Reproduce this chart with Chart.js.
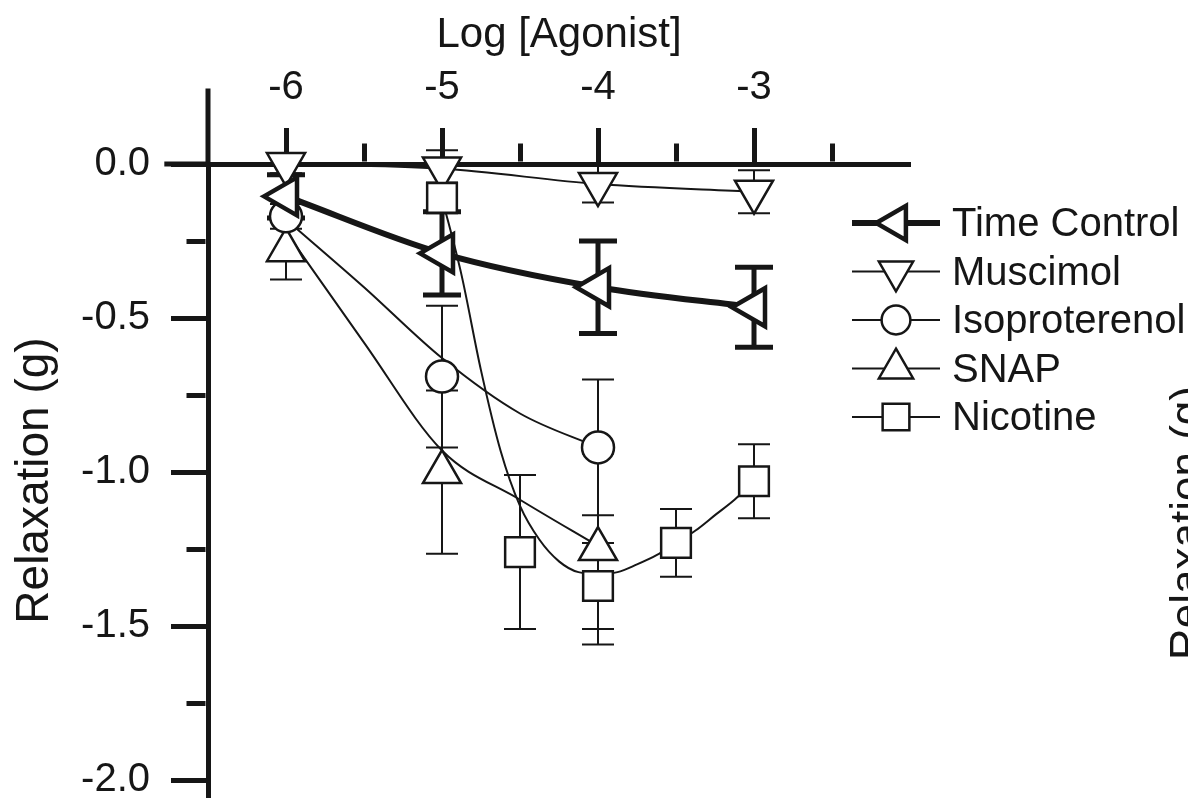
<!DOCTYPE html>
<html>
<head>
<meta charset="utf-8">
<script src="https://cdn.jsdelivr.net/npm/chart.js@4.4.1/dist/chart.umd.min.js"></script>
<style>
  html, body { margin: 0; padding: 0; background: #fff; }
  canvas { display: block; }
</style>
</head>
<body>
<canvas id="chartcontainer" width="1188" height="801"></canvas>
<script>
// log [agonist] doses
var doses = [-6, -5, -4, -3];
var nicDoses = [-5, -4.5, -4, -3.5, -3];

// relaxation (g), mean and error
var timeControl = [-0.105, -0.29, -0.40, -0.465];
var timeControlErr = [0.07, 0.135, 0.15, 0.13];
var muscimol = [0.0, -0.015, -0.065, -0.09];
var muscimolErr = [0.03, 0.06, 0.06, 0.07];
var isoproterenol = [-0.17, -0.69, -0.92];
var isoproterenolErr = [0.04, 0.23, 0.22];
var snap = [-0.28, -1.0, -1.25];
var snapErr = [0.095, 0.265, 0.31];
var nicotine = [-0.11, -1.26, -1.37, -1.23, -1.03];
var nicotineErr = [0.05, 0.25, 0.14, 0.11, 0.12];

// fitted curves as they appear in the figure
var isoFitX = [-6, -5.5, -5, -4.5, -4];
var isoFit = [-0.18, -0.40, -0.63, -0.81, -0.92];
var snapFitX = [-6, -5.5, -5, -4.5, -4];
var snapFit = [-0.22, -0.58, -0.93, -1.09, -1.24];
var nicFitX = [-5, -4.875, -4.75, -4.625, -4.5, -4.375, -4.25, -4.125, -4, -3.875, -3.75, -3.625, -3.5, -3.375, -3.25, -3.125, -3];
var nicFit = [-0.11, -0.36, -0.67, -0.93, -1.11, -1.22, -1.29, -1.325, -1.33, -1.325, -1.30, -1.27, -1.23, -1.19, -1.14, -1.09, -1.03];

var xTicks = [-6, -5.5, -5, -4.5, -4, -3.5, -3, -2.5];
var yTicks = [0, -0.25, -0.5, -0.75, -1.0, -1.25, -1.5, -1.75, -2.0];

var INK = '#161616';
var FONT = "'Liberation Sans', Arial, sans-serif";

function pts(xs, ys) {
  return xs.map(function (x, i) { return { x: x, y: ys[i] }; });
}

function isHalf(v) {
  return Math.abs(v * 2 - Math.round(v * 2)) < 1e-9;
}

function markerSet(label, xs, ys, errs, style, rot, r, opts) {
  var ds = {
    label: label,
    data: pts(xs, ys),
    errors: errs,
    showLine: false,
    pointStyle: style,
    rotation: rot,
    pointRadius: r,
    pointHoverRadius: r,
    pointBorderWidth: 2.5,
    pointBorderColor: INK,
    pointBackgroundColor: '#fff',
    borderColor: INK,
    borderWidth: 2,
    errWidth: 2,
    capWidth: 32,
    cubicInterpolationMode: 'monotone',
    clip: false,
    order: 0
  };
  for (var k in opts) ds[k] = opts[k];
  return ds;
}

function fitSet(xs, ys) {
  return {
    label: '',
    data: pts(xs, ys),
    showLine: true,
    pointRadius: 0,
    borderColor: INK,
    borderWidth: 2,
    cubicInterpolationMode: 'monotone',
    clip: false,
    fit: true,
    order: 10
  };
}

var datasets = [
  markerSet('Time Control', doses, timeControl, timeControlErr, 'triangle', 270, 22,
    { showLine: true, borderWidth: 6, pointBorderWidth: 4.5, errWidth: 5, capWidth: 38 }),
  markerSet('Muscimol', doses, muscimol, muscimolErr, 'triangle', 180, 22, { showLine: true, order: 1 }),
  markerSet('Isoproterenol', doses.slice(0, 3), isoproterenol, isoproterenolErr, 'circle', 0, 16, {}),
  markerSet('SNAP', doses.slice(0, 3), snap, snapErr, 'triangle', 0, 22, {}),
  markerSet('Nicotine', nicDoses, nicotine, nicotineErr, 'rect', 0, 21, {}),
  fitSet(isoFitX, isoFit),
  fitSet(snapFitX, snapFit),
  fitSet(nicFitX, nicFit)
];

// error bars, drawn under the markers
var errorBars = {
  id: 'errorBars',
  beforeDatasetsDraw: function (chart) {
    var ctx = chart.ctx, xs = chart.scales.x, ys = chart.scales.y;
    chart.data.datasets.forEach(function (ds) {
      if (!ds.errors) return;
      ctx.save();
      ctx.strokeStyle = INK;
      ctx.lineWidth = ds.errWidth;
      ds.data.forEach(function (p, i) {
        var e = ds.errors[i];
        var px = xs.getPixelForValue(p.x);
        var top = ys.getPixelForValue(p.y + e);
        var bot = ys.getPixelForValue(p.y - e);
        var h = ds.capWidth / 2;
        ctx.beginPath();
        ctx.moveTo(px, top); ctx.lineTo(px, bot);
        ctx.moveTo(px - h, top); ctx.lineTo(px + h, top);
        ctx.moveTo(px - h, bot); ctx.lineTo(px + h, bot);
        ctx.stroke();
      });
      ctx.restore();
    });
  }
};

// y axis runs above zero, x axis line runs left of the y axis
var axisExtras = {
  id: 'axisExtras',
  afterDraw: function (chart) {
    var ctx = chart.ctx, xs = chart.scales.x, ys = chart.scales.y, a = chart.chartArea;
    ctx.save();
    ctx.strokeStyle = INK;
    ctx.lineWidth = 5;
    ctx.beginPath();
    ctx.moveTo(a.left, ys.getPixelForValue(0.245));
    ctx.lineTo(a.left, a.top);
    ctx.moveTo(xs.getPixelForValue(-6.78), ys.getPixelForValue(0));
    ctx.lineTo(a.left, ys.getPixelForValue(0));
    ctx.stroke();
    ctx.restore();
  }
};

// legend with line-marker-line keys, and the clipped label of the next panel
var sideLegend = {
  id: 'sideLegend',
  afterDraw: function (chart) {
    var ctx = chart.ctx;
    var x0 = 852, x1 = 940, xm = 896, tx = 952, y0 = 223, step = 48.5;
    ctx.save();
    chart.data.datasets.forEach(function (ds, i) {
      if (ds.fit) return;
      var y = y0 + i * step;
      ctx.strokeStyle = INK;
      ctx.lineWidth = i === 0 ? 6 : 2;
      ctx.beginPath();
      ctx.moveTo(x0, y); ctx.lineTo(x1, y);
      ctx.stroke();
      ctx.fillStyle = '#fff';
      ctx.lineWidth = ds.pointBorderWidth;
      Chart.helpers.drawPoint(ctx, {
        pointStyle: ds.pointStyle,
        rotation: ds.rotation,
        radius: ds.pointRadius * 0.9,
        borderWidth: ds.pointBorderWidth
      }, xm, y);
      ctx.fillStyle = INK;
      ctx.font = '40px ' + FONT;
      ctx.textAlign = 'left';
      ctx.textBaseline = 'middle';
      ctx.fillText(ds.label, tx, y + 2);
    });
    ctx.translate(1201, 660);
    ctx.rotate(-Math.PI / 2);
    ctx.font = '44px ' + FONT;
    ctx.textBaseline = 'alphabetic';
    ctx.fillStyle = INK;
    ctx.fillText('Relaxation (g)', 0, 0);
    ctx.restore();
  }
};

Chart.defaults.font.family = FONT;
Chart.defaults.color = INK;

var ctx = document.getElementById('chartcontainer');
var chart = new Chart(ctx, {
  type: 'scatter',
  data: { datasets: datasets },
  options: {
    responsive: false,
    animation: false,
    devicePixelRatio: 1,
    layout: { autoPadding: false, padding: { left: 0, top: 0, right: 278, bottom: 4 } },
    plugins: {
      legend: { display: false },
      tooltip: { enabled: false }
    },
    scales: {
      x: {
        type: 'linear',
        position: 'top',
        min: -6.5,
        max: -2.0,
        z: 1,
        afterFit: function (s) { s.height = 164; },
        afterBuildTicks: function (s) { s.ticks = xTicks.map(function (v) { return { value: v }; }); },
        title: { display: true, text: 'Log [Agonist]', font: { size: 42 }, padding: { top: 10, bottom: 0 }, color: INK },
        ticks: {
          font: { size: 40 },
          padding: 16,
          maxRotation: 0,
          autoSkip: false,
          color: INK,
          callback: function (v) { return Number.isInteger(v) ? String(v) : ''; }
        },
        border: { display: true, color: INK, width: 5 },
        grid: {
          drawOnChartArea: false,
          tickLength: 36,
          tickWidth: 5,
          tickColor: INK,
          tickBorderDash: function (c) { return Number.isInteger(c.tick.value) ? [] : [18, 200]; },
          tickBorderDashOffset: function (c) { return Number.isInteger(c.tick.value) ? 0 : 218 - 15.5; }
        }
      },
      y: {
        type: 'linear',
        position: 'left',
        min: -2.055,
        max: 0,
        afterFit: function (s) { s.width = 208; s.paddingTop = 0; s.paddingBottom = 0; },
        afterBuildTicks: function (s) { s.ticks = yTicks.map(function (v) { return { value: v }; }); },
        title: { display: true, text: 'Relaxation (g)', font: { size: 46 }, padding: { top: 8, bottom: 0 }, color: INK },
        ticks: {
          font: { size: 40 },
          padding: 21,
          autoSkip: false,
          color: INK,
          callback: function (v) { return isHalf(v) ? v.toFixed(1) : ''; }
        },
        border: { display: true, color: INK, width: 5 },
        grid: {
          drawOnChartArea: false,
          tickLength: 37,
          tickWidth: 5,
          tickColor: INK,
          tickBorderDash: function (c) { return isHalf(c.tick.value) ? [] : [19, 200]; },
          tickBorderDashOffset: function (c) { return isHalf(c.tick.value) ? 0 : 219 - 15.5; }
        }
      }
    }
  },
  plugins: [errorBars, axisExtras, sideLegend]
});
</script>
</body>
</html>
